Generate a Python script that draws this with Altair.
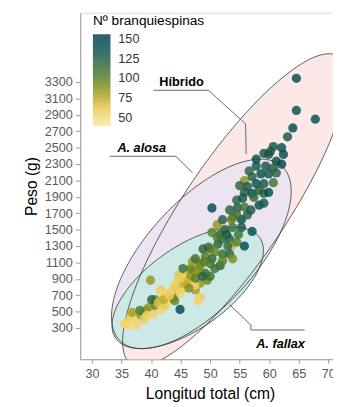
import numpy as np
import pandas as pd
import altair as alt

# ---- fish data: total length (cm), weight (g), gill rakers ----
length_cm = [64.6, 64.6, 67.8, 64.0, 63.1, 62.1, 62.4, 60.2, 59.1, 59.9, 61.2, 59.4, 60.7, 58.6, 59.9, 61.2,
             55.8, 57.1, 55.0, 56.3, 57.8, 59.1, 60.7, 55.8, 57.1, 59.1, 59.9, 54.5, 50.3, 54.6, 55.8, 56.9,
             58.3, 59.1, 53.8, 55.3, 56.3, 54.5, 51.2, 53.6, 57.1, 52.5, 53.8, 55.3, 50.3, 51.7, 52.8, 52.0,
             53.3, 55.8, 53.6, 49.7, 51.3, 53.0, 54.5, 50.0, 50.8, 52.1, 53.3, 53.8, 49.2, 50.3, 48.3, 50.0,
             51.7, 47.0, 48.0, 49.2, 44.7, 45.9, 50.8, 52.1, 49.5, 48.3, 47.5, 48.3, 50.0, 46.7, 35.8, 36.3,
             37.1, 38.3, 39.1, 36.8, 39.6, 40.7, 40.4, 41.7, 42.4, 42.9, 40.7, 42.4, 43.7, 44.0, 41.6, 43.4,
             44.5, 45.7, 44.5, 46.2, 46.7, 47.9, 47.4, 46.7, 48.3, 49.0, 47.0, 47.9, 37.6, 36.6, 44.9, 39.9,
             40.1, 38.1, 35.5, 42.1, 38.8, 39.3, 41.2, 42.1, 43.1, 45.0, 45.5, 43.9, 46.4, 45.0, 47.5, 48.7,
             45.4, 57.8, 56.6, 62.1, 58.3, 55.5, 53.3, 52.1, 57.4, 54.8, 51.2, 48.8, 47.5, 60.7, 57.8]
weight_g = [3346, 2954, 2847, 2740, 2632, 2500, 2418, 2454, 2430, 2418, 2335, 2275, 2251, 2180, 2180, 2192,
            2097, 2144, 2037, 2025, 2061, 2061, 2073, 1954, 1942, 1942, 1954, 1859, 1764, 1764, 1776, 1740,
            1799, 1823, 1645, 1621, 1680, 1680, 1561, 1621, 1478, 1502, 1526, 1526, 1466, 1442, 1442, 1383,
            1383, 1300, 1300, 1288, 1323, 1300, 1347, 1264, 1228, 1204, 1204, 1145, 1169, 1145, 1085, 1085,
            1061, 1002, 990, 966, 943, 931, 1026, 1121, 883, 847, 764, 669, 931, 847, 348, 407,
            431, 455, 514, 490, 550, 574, 467, 526, 574, 633, 645, 705, 669, 633, 764, 752,
            764, 788, 871, 871, 943, 990, 824, 1026, 1050, 1109, 1109, 633, 336, 336, 526, 883,
            645, 514, 348, 728, 407, 455, 609, 645, 693, 728, 847, 812, 788, 907, 907, 931,
            1026, 2275, 2216, 2299, 1978, 1883, 1740, 1621, 1895, 1442, 1407, 1264, 1145, 2513, 2359]
rakers = [140, 135, 135, 140, 130, 135, 140, 125, 130, 130, 135, 130, 125, 135, 130, 120,
          88, 125, 120, 130, 135, 130, 110, 125, 140, 120, 135, 120, 145, 125, 110, 130,
          140, 130, 120, 135, 125, 110, 85, 95, 135, 120, 110, 130, 100, 120, 130, 115,
          125, 140, 70, 110, 120, 115, 100, 105, 95, 110, 120, 90, 100, 115, 95, 105,
          120, 90, 105, 115, 65, 60, 110, 100, 95, 85, 80, 60, 110, 70, 55, 60,
          55, 85, 90, 80, 85, 95, 55, 55, 60, 55, 90, 55, 100, 95, 60, 55,
          65, 60, 55, 70, 85, 80, 55, 95, 90, 100, 85, 55, 55, 50, 145, 85,
          120, 105, 55, 55, 60, 55, 65, 75, 60, 55, 75, 60, 90, 60, 100, 120,
          110, 130, 120, 145, 125, 130, 120, 125, 115, 110, 105, 120, 110, 130, 135]

# ---- 95% ellipses per group (centre and semi-axis vectors, data units) ----
ell_group = ["Híbrido", "A. alosa", "A. fallax"]
ell_cx = [54.13, 48.51, 46.20]
ell_cy = [1740, 1204, 788]
ell_ax = [17.56, 13.67, 12.18]
ell_ay = [1874, 1067, 615]
ell_bx = [-7.13, -6.68, -3.99]
ell_by = [346, 444, 409]
ell_fill = ["#fce9e7", "#ece5f1", "#cde9e6"]

# ---- annotations ----
lab_text = ["Híbrido", "A. alosa", "A. fallax"]
lab_x = [41.4, 34.3, 57.8]
lab_y = [3300, 2490, 110]
lead_id = ["h", "h", "h", "h", "a", "a", "a", "f", "f", "f", "f"]
lead_x = [40.4, 49.7, 56.0, 56.1, 33.0, 44.2, 47.0, 66.0, 56.9, 56.9, 53.3]
lead_y = [3200, 3200, 2790, 2420, 2395, 2395, 2195, 276, 276, 336, 586]

x_ticks = [30, 35, 40, 45, 50, 55, 60, 65, 70]
y_ticks = list(range(300, 3301, 200))
legend_vals = [50, 75, 100, 125, 150]

FONT = "Liberation Sans"

pts = pd.DataFrame({"L": length_cm, "W": weight_g, "B": rakers})

rows = []
tt = np.linspace(0, 2 * np.pi, 181)
for gi, g in enumerate(ell_group):
    for k, t in enumerate(tt):
        rows.append({"g": g, "i": k,
                     "L": ell_cx[gi] + ell_ax[gi] * np.cos(t) + ell_bx[gi] * np.sin(t),
                     "W": ell_cy[gi] + ell_ay[gi] * np.cos(t) + ell_by[gi] * np.sin(t)})
ell = pd.DataFrame(rows)

xs = alt.Scale(domain=[28, 70.8], nice=False, zero=False)
ys = alt.Scale(domain=[-81, 4145], nice=False, zero=False)
xax = alt.Axis(values=x_ticks, format="d", title="Longitud total (cm)", titleX=133, titleY=40,
               titleBaseline="alphabetic", labelOverlap=False)
yax = alt.Axis(values=y_ticks, format="d", labelOverlap=False, title="Peso (g)",
               titleX=-42, titleY=177.5, titleBaseline="bottom")


def X():
    return alt.X("L:Q", scale=xs, axis=xax)


def Y():
    return alt.Y("W:Q", scale=ys, axis=yax)


layers = []
for gi, g in enumerate(ell_group):
    layers.append(
        alt.Chart(ell[ell.g == g]).mark_line(fill=ell_fill[gi], fillOpacity=1, strokeOpacity=0, clip=True)
        .encode(x=X(), y=Y(), order="i:Q")
    )
for gi, g in enumerate(ell_group):
    layers.append(
        alt.Chart(ell[ell.g == g]).mark_line(color="#333333", strokeWidth=0.8, clip=True)
        .encode(x=X(), y=Y(), order="i:Q")
    )

lead = pd.DataFrame({"id": lead_id, "L": lead_x, "W": lead_y, "i": list(range(len(lead_x)))})
layers.append(
    alt.Chart(lead).mark_line(color="#666666", strokeWidth=1)
    .encode(x=X(), y=Y(), detail="id:N", order="i:Q")
)

points = alt.Chart(pts).mark_circle(size=90, opacity=0.82).encode(
    x=X(), y=Y(),
    color=alt.Color("B:Q",
                    scale=alt.Scale(domain=[40, 62, 80, 100, 125, 156],
                                    range=["#fbe8a2", "#ecc94e", "#a69e1a", "#5a7d24", "#235a40", "#0b3a4f"]),
                    legend=alt.Legend(title="Nº branquiespinas", orient="none", legendX=13, legendY=2,
                                      values=legend_vals, gradientLength=94, gradientThickness=18,
                                      titleFontSize=14, titleFontWeight="normal", titleColor="black",
                                      titlePadding=6, labelFontSize=13, labelColor="#333333",
                                      labelOffset=8, gradientStrokeWidth=0, padding=0)),
)
layers.append(points)

labs = pd.DataFrame({"L": lab_x, "W": lab_y, "t": lab_text})
layers.append(
    alt.Chart(labs.iloc[[0]]).mark_text(align="left", baseline="middle", fontSize=13, fontWeight="bold",
                                         font=FONT, color="black")
    .encode(x=X(), y=Y(), text="t:N")
)
layers.append(
    alt.Chart(labs.iloc[[1, 2]]).mark_text(align="left", baseline="middle", fontSize=13, fontWeight="bold",
                                            fontStyle="italic", font=FONT, color="black")
    .encode(x=X(), y=Y(), text="t:N")
)

chart = alt.layer(*layers).properties(
    width=259, height=355,
    autosize=alt.AutoSizeParams(type="none"),
    padding={"left": 74, "top": 0, "right": 0, "bottom": 44},
).configure_view(stroke="#dddddd").configure_axis(
    grid=False, domainColor="#9a9a9a", tickColor="#9a9a9a", tickSize=5, labelOverlap=False,
    labelFont=FONT, labelFontSize=13, labelColor="#5a5a5a", labelPadding=3,
    titleFont=FONT, titleFontSize=16, titleFontWeight="normal", titleColor="black",
).configure_axisX(labelPadding=5, tickSize=4).configure_legend(labelFont=FONT, titleFont=FONT)

chart.save("out.html", embed_options={"renderer": "svg", "actions": False})
